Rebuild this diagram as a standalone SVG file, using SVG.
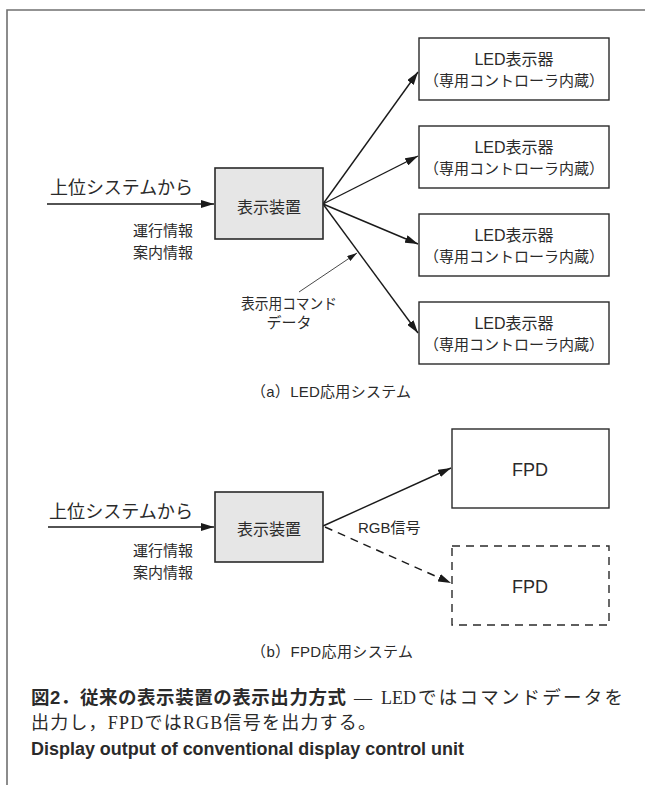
<svg xmlns="http://www.w3.org/2000/svg" width="645" height="785" viewBox="0 0 645 785">
<style>
.sans{font-family:"Liberation Sans","Noto Sans CJK JP",sans-serif;fill:#2a2a2a}
.serif{font-family:"Liberation Serif","Noto Sans CJK JP",serif;fill:#2a2a2a}
.box{fill:#ffffff;stroke:#2a2a2a;stroke-width:1.4}
.gbox{fill:#e6e6e6;stroke:#2a2a2a;stroke-width:1.6}
.dbox{fill:none;stroke:#2a2a2a;stroke-width:1.4;stroke-dasharray:8 6}
.ln{fill:none;stroke:#1a1a1a;stroke-width:1.4}
.thin{fill:none;stroke:#1a1a1a;stroke-width:0.8}
.mid{text-anchor:middle}
.end{text-anchor:end}
</style>
<defs>
<marker id="ah" viewBox="0 0 13 8" refX="13" refY="4" markerWidth="13" markerHeight="8" markerUnits="userSpaceOnUse" orient="auto">
<path d="M0,0 L13,4 L0,8 z" fill="#1a1a1a"/>
</marker>
<marker id="ahs" viewBox="0 0 10 6" refX="10" refY="3" markerWidth="10" markerHeight="6" markerUnits="userSpaceOnUse" orient="auto">
<path d="M0,0 L10,3 L0,6 z" fill="#1a1a1a"/>
</marker>
</defs>
<rect x="0" y="0" width="645" height="785" fill="#ffffff"/>
<g id="frame">
<path d="M7,785 L7,10 L645,10" fill="none" stroke="#707070" stroke-width="1.6"/>
</g>

<g id="connectors">
<line class="ln" x1="47" y1="204" x2="214" y2="204" marker-end="url(#ah)"/>
<line class="ln" x1="323" y1="204" x2="418" y2="72" marker-end="url(#ah)"/>
<line class="ln" x1="323" y1="204" x2="418" y2="156" marker-end="url(#ah)"/>
<line class="ln" x1="323" y1="204" x2="418" y2="244" marker-end="url(#ah)"/>
<line class="ln" x1="323" y1="204" x2="418" y2="333" marker-end="url(#ah)"/>
<line class="thin" x1="299" y1="292" x2="357" y2="253" marker-end="url(#ahs)"/>
<line class="ln" x1="48" y1="527" x2="214" y2="527" marker-end="url(#ah)"/>
<line class="ln" x1="323" y1="526" x2="451" y2="468" marker-end="url(#ah)"/>
<line class="ln" x1="325" y1="527" x2="451" y2="583" stroke-dasharray="8 6" marker-end="url(#ah)"/>
</g>

<g id="input-a">
<text class="sans" x="50" y="194" font-size="18" textLength="143" lengthAdjust="spacingAndGlyphs">上位システムから</text>
<text class="sans end" x="193" y="236" font-size="15">運行情報</text>
<text class="sans end" x="193" y="258" font-size="15">案内情報</text>
</g>

<g id="unit-a">
<rect class="gbox" x="215" y="168" width="108" height="71"/>
<text class="sans mid" x="269" y="213" font-size="16">表示装置</text>
</g>

<g id="led1">
<rect class="box" x="419" y="38" width="190" height="62"/>
<text class="sans mid" x="514" y="65" font-size="16">LED表示器</text>
<text class="sans mid" x="514" y="86" font-size="15">（専用コントローラ内蔵）</text>
</g>
<g id="led2">
<rect class="box" x="419" y="126" width="190" height="62"/>
<text class="sans mid" x="514" y="153" font-size="16">LED表示器</text>
<text class="sans mid" x="514" y="174" font-size="15">（専用コントローラ内蔵）</text>
</g>
<g id="led3">
<rect class="box" x="419" y="214" width="190" height="62"/>
<text class="sans mid" x="514" y="241" font-size="16">LED表示器</text>
<text class="sans mid" x="514" y="262" font-size="15">（専用コントローラ内蔵）</text>
</g>
<g id="led4">
<rect class="box" x="419" y="302" width="190" height="62"/>
<text class="sans mid" x="514" y="329" font-size="16">LED表示器</text>
<text class="sans mid" x="514" y="350" font-size="15">（専用コントローラ内蔵）</text>
</g>

<g id="cmd-label">
<text class="sans" x="241" y="309" font-size="15" textLength="96" lengthAdjust="spacingAndGlyphs">表示用コマンド</text>
<text class="sans mid" x="289" y="328" font-size="15">データ</text>
</g>

<g id="caption-a">
<text class="sans" x="251" y="397" font-size="15" textLength="160" lengthAdjust="spacing">（a）LED応用システム</text>
</g>

<g id="input-b">
<text class="sans" x="49" y="518" font-size="18" textLength="144" lengthAdjust="spacingAndGlyphs">上位システムから</text>
<text class="sans end" x="193" y="556" font-size="15">運行情報</text>
<text class="sans end" x="193" y="578" font-size="15">案内情報</text>
</g>

<g id="unit-b">
<rect class="gbox" x="215" y="492" width="108" height="70"/>
<text class="sans mid" x="269" y="535" font-size="16">表示装置</text>
</g>

<g id="rgb-label">
<text class="sans" x="358" y="533" font-size="15">RGB信号</text>
</g>

<g id="fpd1">
<rect class="box" x="452" y="429" width="157" height="79"/>
<text class="sans mid" x="530" y="476" font-size="18">FPD</text>
</g>
<g id="fpd2">
<rect class="dbox" x="452" y="546" width="157" height="79"/>
<text class="sans mid" x="530" y="593" font-size="18">FPD</text>
</g>

<g id="caption-b">
<text class="sans" x="251" y="657" font-size="15" textLength="162" lengthAdjust="spacing">（b）FPD応用システム</text>
</g>

<g id="figure-caption">
<text class="sans" x="31" y="704" font-size="18.5" font-weight="bold" textLength="315" lengthAdjust="spacing">図2．従来の表示装置の表示出力方式</text>
<text class="serif" x="354" y="704" font-size="18" textLength="18" lengthAdjust="spacingAndGlyphs">—</text>
<text class="serif" x="381" y="704" font-size="18" textLength="35" lengthAdjust="spacing">LED</text>
<text class="serif" x="418" y="704" font-size="18.5" textLength="205" lengthAdjust="spacing">ではコマンドデータを</text>
<text class="serif" x="31" y="729" font-size="18" textLength="345" lengthAdjust="spacing">出力し，FPDではRGB信号を出力する。</text>
<text class="sans" x="31" y="755" font-size="17.5" font-weight="bold" textLength="433" lengthAdjust="spacingAndGlyphs">Display output of conventional display control unit</text>
</g>
</svg>
